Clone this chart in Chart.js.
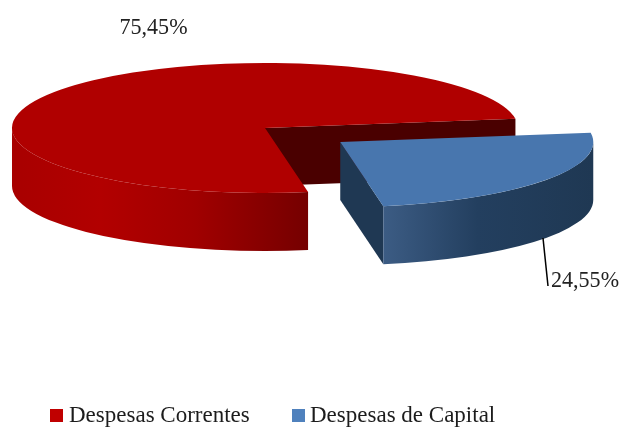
<!DOCTYPE html>
<html>
<head>
<meta charset="utf-8">
<title>Despesas</title>
<script src="https://cdn.jsdelivr.net/npm/chart.js@4"></script>
<style>html, body { margin: 0; padding: 0; background: #fff; }</style>
</head>
<body>
<canvas id="pie" width="621" height="429"></canvas>
<script>
const categories = ["Despesas Correntes", "Despesas de Capital"];
const shares = [75.45, 24.55];
const shareLabels = ["75,45%", "24,55%"];

const topColors = ["#b00000", "#4876ae"];
const legendColors = ["#c00000", "#4f81bd"];
const cutColors = ["#4a0000", "#1f3853"];
const wallStops = [
  [[0, "#a80000"], [0.3, "#b20000"], [0.62, "#a00000"], [1, "#750000"]],
  [[0, "#3c5c84"], [0.45, "#233f5f"], [1, "#1f3853"]],
];

// where the squashed pie ends up on the page
const pieX = 265, pieY = 128, pieR = 253, squash = 0.257, depth = 58;

function faceTransform(chart, ctx) {
  const arc = chart.getDatasetMeta(0).data[0];
  ctx.translate(pieX - arc.x, pieY);
  ctx.scale(1, squash);
  ctx.translate(0, -arc.y);
}

function arcShift(arc) {
  // same shift ArcElement.draw applies for options.offset
  const off = (arc.options.offset || 0) / 4;
  const fix = 1 - Math.sin(Math.min(Math.PI, arc.circumference));
  const mid = (arc.startAngle + arc.endAngle) / 2;
  return { x: Math.cos(mid) * off * (1 + fix), y: Math.sin(mid) * off * (1 + fix) };
}

function drawCut(ctx, x, y, r, a, d, color) {
  ctx.beginPath();
  ctx.moveTo(x, y);
  ctx.lineTo(x + Math.cos(a) * r, y + Math.sin(a) * r);
  ctx.lineTo(x + Math.cos(a) * r, y + Math.sin(a) * r + d);
  ctx.lineTo(x, y + d);
  ctx.closePath();
  ctx.fillStyle = color;
  ctx.fill();
}

function drawWall(ctx, x, y, r, from, to, d, stops) {
  const xa = x + Math.cos(from) * r, xb = x + Math.cos(to) * r;
  let left = Math.min(xa, xb), right = Math.max(xa, xb);
  if (from <= Math.PI && to >= Math.PI) left = x - r;
  const grad = ctx.createLinearGradient(left, 0, right, 0);
  stops.forEach(function (s) { grad.addColorStop(s[0], s[1]); });
  ctx.beginPath();
  ctx.arc(x, y, r, from, to);
  ctx.arc(x, y + d, r, to, from, true);
  ctx.closePath();
  ctx.fillStyle = grad;
  ctx.fill();
}

const extrude = {
  id: "extrude",
  beforeDatasetsDraw(chart) {
    const ctx = chart.ctx;
    ctx.save();
    faceTransform(chart, ctx);
    const d = depth / squash;
    chart.getDatasetMeta(0).data.forEach(function (arc, i) {
      const s = arcShift(arc);
      const x = arc.x + s.x, y = arc.y + s.y, r = pieR;
      if (Math.cos(arc.endAngle) > 0) drawCut(ctx, x, y, r, arc.endAngle, d, cutColors[i]);
      if (-Math.cos(arc.startAngle) > 0) drawCut(ctx, x, y, r, arc.startAngle, d, cutColors[i]);
      // only the front half of the rim can be seen
      for (let k = -1; k <= 2; k++) {
        const from = Math.max(arc.startAngle, k * 2 * Math.PI);
        const to = Math.min(arc.endAngle, k * 2 * Math.PI + Math.PI);
        if (to > from) drawWall(ctx, x, y, r, from - k * 2 * Math.PI, to - k * 2 * Math.PI, d, wallStops[i]);
      }
    });
  },
  afterDatasetsDraw(chart) {
    const ctx = chart.ctx;
    ctx.restore();

    // leader line and percentages
    ctx.save();
    ctx.strokeStyle = "#000";
    ctx.lineWidth = 1.5;
    ctx.beginPath();
    ctx.moveTo(543, 238);
    ctx.lineTo(548, 286);
    ctx.stroke();
    ctx.fillStyle = "#222";
    ctx.font = '24px "Liberation Serif"';
    ctx.textBaseline = "alphabetic";
    ctx.fillText(shareLabels[0], 119.5, 33.5, 68);
    ctx.fillText(shareLabels[1], 551, 287, 68);

    // legend, the built-in one breaks the radius once its padding is set
    const boxX = [50, 292], textX = [69, 310];
    ctx.font = '23px "Liberation Serif"';
    categories.forEach(function (name, i) {
      ctx.fillStyle = legendColors[i];
      ctx.fillRect(boxX[i], 409, 13, 13);
      ctx.fillStyle = "#1c1c1c";
      ctx.fillText(name, textX[i], 422);
    });
    ctx.restore();
  },
};

new Chart(document.getElementById("pie"), {
  type: "pie",
  data: {
    labels: categories,
    datasets: [{
      data: shares,
      backgroundColor: topColors,
      borderWidth: 0,
      radius: pieR,
      rotation: 170.2,
      offset: [0, 372],
    }],
  },
  options: {
    responsive: false,
    animation: false,
    events: [],
    plugins: {
      tooltip: { enabled: false },
      legend: { display: false },
    },
  },
  plugins: [extrude],
});
</script>
</body>
</html>
